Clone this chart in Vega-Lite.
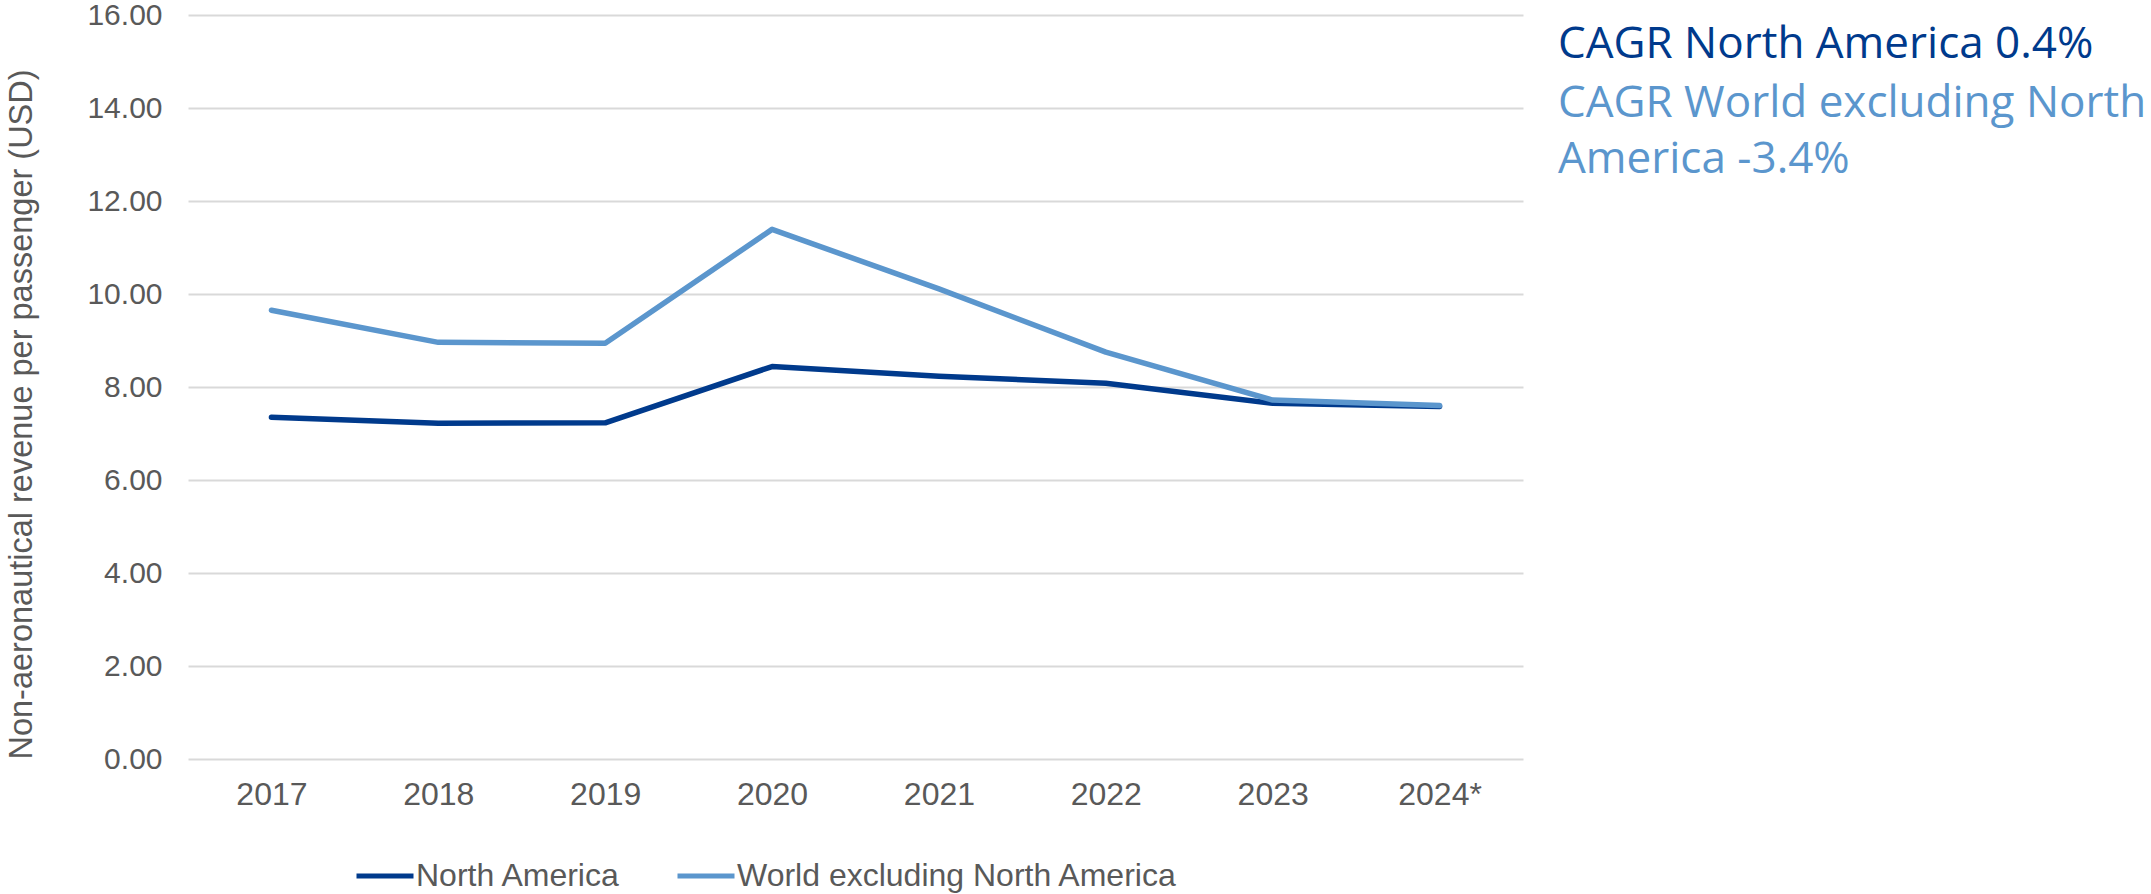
{
  "$schema": "https://vega.github.io/schema/vega-lite/v6.json",
  "width": 1335,
  "height": 744,
  "autosize": {"type": "none"},
  "padding": {"left": 188, "top": 15, "right": 628, "bottom": 135},
  "background": "white",
  "title": {
    "text": "CAGR North America 0.4%",
    "subtitle": ["CAGR World excluding North", "America -3.4%"],
    "orient": "top",
    "anchor": "end",
    "frame": "group",
    "align": "left",
    "baseline": "top",
    "offset": -182,
    "dx": 35,
    "font": "Open Sans",
    "fontSize": 44,
    "fontWeight": "normal",
    "color": "#003A8C",
    "subtitleFont": "Open Sans",
    "subtitleFontSize": 44,
    "subtitleColor": "#5B96CD",
    "subtitleLineHeight": 56,
    "subtitlePadding": 15
  },
  "config": {
    "view": {"stroke": null},
    "font": "Liberation Sans",
    "axis": {
      "labelFont": "Liberation Sans",
      "titleFont": "Liberation Sans",
      "labelColor": "#595959",
      "titleColor": "#595959"
    }
  },
  "data": {
    "values": [
      {"year": "2017", "series": "North America", "value": 7.35},
      {"year": "2018", "series": "North America", "value": 7.22},
      {"year": "2019", "series": "North America", "value": 7.23},
      {"year": "2020", "series": "North America", "value": 8.44},
      {"year": "2021", "series": "North America", "value": 8.23},
      {"year": "2022", "series": "North America", "value": 8.08},
      {"year": "2023", "series": "North America", "value": 7.65},
      {"year": "2024*", "series": "North America", "value": 7.58},
      {"year": "2017", "series": "World excluding North America", "value": 9.65},
      {"year": "2018", "series": "World excluding North America", "value": 8.96},
      {"year": "2019", "series": "World excluding North America", "value": 8.94},
      {"year": "2020", "series": "World excluding North America", "value": 11.39},
      {"year": "2021", "series": "World excluding North America", "value": 10.11},
      {"year": "2022", "series": "World excluding North America", "value": 8.75},
      {"year": "2023", "series": "World excluding North America", "value": 7.72},
      {"year": "2024*", "series": "World excluding North America", "value": 7.6}
    ]
  },
  "mark": {"type": "line", "strokeWidth": 5.5, "strokeJoin": "round", "strokeCap": "round"},
  "encoding": {
    "x": {
      "field": "year",
      "type": "ordinal",
      "scale": {"type": "point", "padding": 0.5},
      "axis": {
        "title": null,
        "labelAngle": 0,
        "labelFontSize": 32,
        "labelPadding": 20,
        "ticks": false,
        "domain": false,
        "grid": false
      }
    },
    "y": {
      "field": "value",
      "type": "quantitative",
      "scale": {"domain": [0, 16], "nice": false},
      "axis": {
        "title": "Non-aeronautical revenue per passenger (USD)",
        "titleFontSize": 32.5,
        "titleFontWeight": "normal",
        "titlePadding": 48,
        "titleAnchor": "start",
        "values": [0, 2, 4, 6, 8, 10, 12, 14, 16],
        "format": ".2f",
        "labelFontSize": 30,
        "labelPadding": 26,
        "ticks": false,
        "domain": false,
        "grid": true,
        "gridColor": "#D9D9D9",
        "gridWidth": 2
      }
    },
    "color": {
      "field": "series",
      "type": "nominal",
      "scale": {
        "domain": ["North America", "World excluding North America"],
        "range": ["#003A8C", "#5B96CD"]
      },
      "legend": {
        "title": null,
        "orient": "none",
        "legendX": 166,
        "legendY": 830,
        "direction": "horizontal",
        "symbolType": "stroke",
        "symbolSize": 3249,
        "symbolStrokeWidth": 5,
        "labelFontSize": 32,
        "labelLimit": 600,
        "labelColor": "#595959",
        "labelFont": "Liberation Sans",
        "labelOffset": 0,
        "columnPadding": 46
      }
    }
  }
}
